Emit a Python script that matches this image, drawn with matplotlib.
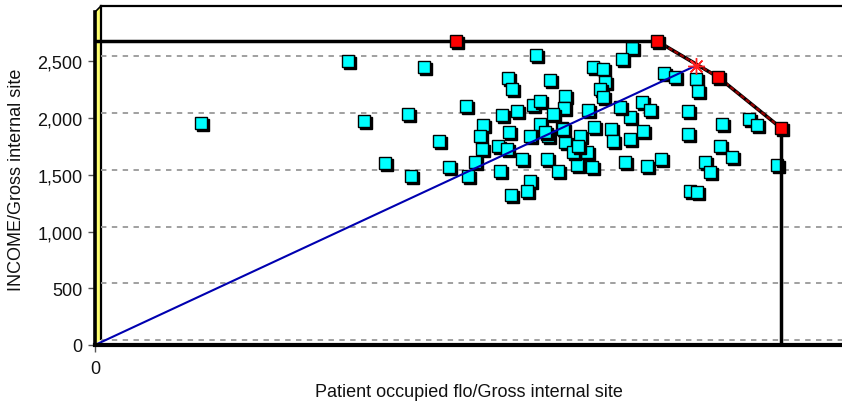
import matplotlib
matplotlib.use('Agg')
import matplotlib.pyplot as plt
from matplotlib.transforms import ScaledTranslation
from matplotlib.patches import Polygon
from matplotlib.ticker import FuncFormatter

plt.rcParams['font.family'] = ['Liberation Sans', 'DejaVu Sans']

# ---------------- data ----------------
unit_x = [0.106, 0.253, 0.269, 0.329, 0.313, 0.290, 0.316, 0.344, 0.354, 0.371,
          0.441, 0.413, 0.417, 0.455, 0.388, 0.385, 0.407, 0.422, 0.438, 0.445,
          0.470, 0.469, 0.445, 0.414, 0.435, 0.453, 0.470, 0.485, 0.499, 0.498,
          0.493, 0.387, 0.403, 0.412, 0.427, 0.405, 0.380, 0.373, 0.452, 0.463,
          0.482, 0.497, 0.435, 0.432, 0.416, 0.492, 0.478, 0.450, 0.458, 0.516,
          0.518, 0.535, 0.530, 0.535, 0.548, 0.552, 0.566, 0.537, 0.527, 0.508,
          0.510, 0.505, 0.508, 0.525, 0.547, 0.555, 0.569, 0.580, 0.601, 0.603,
          0.593, 0.593, 0.627, 0.654, 0.662, 0.625, 0.637, 0.610, 0.615, 0.595,
          0.602, 0.682, 0.483, 0.468]
unit_y = [1956, 2502, 1973, 2449, 2035, 1603, 1489, 1797, 1568, 2106,
          2555, 2352, 2255, 2335, 1938, 1841, 2026, 2062, 2114, 2150,
          2194, 2088, 1947, 1877, 1841, 1841, 1788, 1841, 1921, 2449,
          2070, 1727, 1753, 1727, 1639, 1533, 1612, 1489, 1639, 1533,
          1586, 1568, 1445, 1357, 1322, 1700, 1700, 1877, 2035, 1903,
          1797, 1815, 1612, 2009, 1885, 1577, 1639, 2617, 2520, 2432,
          2317, 2255, 2185, 2097, 2141, 2070, 2396, 2361, 2343, 2238,
          2062, 1859, 1947, 1991, 1938, 1753, 1656, 1612, 1524, 1357,
          1348, 1586, 1753, 1903]

frontier_x = [0.361, 0.562, 0.623, 0.686]
frontier_y = [2678, 2678, 2361, 1912]

eval_x, eval_y = 0.467, 1915      # evaluated unit (red, partly hidden)
target_x, target_y = 0.601, 2462  # projection on the frontier

y_ticks = [0, 500, 1000, 1500, 2000, 2500]
x_ticks = [0]
x_label = 'Patient occupied flo/Gross internal site'
y_label = 'INCOME/Gross internal site'
x_max, y_max = 0.747, 2934

# ---------------- figure ----------------
W, H, DPI = 842, 406, 100
fig = plt.figure(figsize=(W / DPI, H / DPI), dpi=DPI, facecolor='white')
L, R, T, B = 95, 842, 13, 346
ax = fig.add_axes([L / W, 1 - B / H, (R - L) / W, (B - T) / H])
ax.set_xlim(0, x_max)
ax.set_ylim(0, y_max)

# 3D back-wall offset
dpx = 6
wx = dpx / (R - L)
hy = dpx / (B - T)
up = ScaledTranslation(0, 5 / DPI, fig.dpi_scale_trans)

# yellow side wall
wall = Polygon([(0, 0), (wx, hy), (wx, 1 + hy), (0, 1)], closed=True,
               transform=ax.transAxes, facecolor='#ffff70', edgecolor='none',
               clip_on=False, zorder=0.5)
ax.add_patch(wall)
ax.plot([wx, wx], [hy, 1 + hy], transform=ax.transAxes, color='black', lw=1.6,
        clip_on=False, zorder=0.6)
ax.plot([wx, 1], [1 + hy, 1 + hy], transform=ax.transAxes, color='black', lw=1.6,
        clip_on=False, zorder=0.6)
ax.plot([0, wx], [1, 1 + hy], transform=ax.transAxes, color='black', lw=1.2,
        clip_on=False, zorder=0.6)

# gridlines on the back wall
for v in y_ticks:
    ax.plot([wx, 1], [v, v], transform=ax.get_yaxis_transform() + up,
            color='#999999', lw=1.3, ls=(0, (3, 3)), clip_on=False, zorder=0.7)

# spines
for s in ['top', 'right']:
    ax.spines[s].set_visible(False)
ax.spines['left'].set_linewidth(2.6)
ax.spines['bottom'].set_linewidth(3)
ax.spines['left'].set_zorder(5)
ax.spines['bottom'].set_zorder(5)

ax.set_yticks(y_ticks)
ax.yaxis.set_major_formatter(FuncFormatter(lambda v, p: f'{int(v):,}'))
ax.set_xticks(x_ticks)
ax.set_xticklabels([str(t) for t in x_ticks])
ax.tick_params(axis='both', length=5, width=1, color='#555555', labelsize=13,
               labelcolor='#111111')
ax.tick_params(axis='y', pad=4)
ax.tick_params(axis='x', pad=6)
ax.set_xlabel(x_label, fontsize=13, color='#111111', labelpad=4)
ax.set_ylabel(y_label, fontsize=13, color='#111111', labelpad=9)

shadow = ax.transData + ScaledTranslation(2.0 / DPI, -2.0 / DPI, fig.dpi_scale_trans)
ms = 9.2

# evaluated unit (mostly hidden)
ax.plot(eval_x, eval_y, 's', ms=ms, mfc='black', mec='black', transform=shadow, zorder=1)
ax.plot(eval_x, eval_y, 's', ms=ms, mfc='#ff0000', mec='black', mew=1, zorder=1.01)

# cyan units with shadow
z = 2
for x, y in zip(unit_x, unit_y):
    ax.plot(x, y, 's', ms=ms, mfc='black', mec='black', transform=shadow, zorder=z)
    ax.plot(x, y, 's', ms=ms, mfc='#00ffff', mec='black', mew=1, zorder=z + 0.001)
    z += 0.01

# ray from origin to the target
ax.plot([0, target_x], [0, target_y], color='#0000b0', lw=1.5, zorder=4)

# frontier
ax.plot([0, frontier_x[1]], [frontier_y[0], frontier_y[1]], color='black', lw=2.5,
        zorder=4.5, solid_capstyle='butt')
ax.plot(frontier_x[1:], frontier_y[1:], color='black', lw=2.6, zorder=4.5)
ax.plot(frontier_x[1:], frontier_y[1:], color='#9a0000', lw=1.6, ls=(0, (2, 1)), zorder=4.6)
ax.plot([frontier_x[-1], frontier_x[-1]], [frontier_y[-1], 0], color='black', lw=2.5,
        zorder=4.5)

ax.plot(target_x, target_y, marker=(8, 2, 0), ms=12, mec='#ff2020', mew=1, zorder=4.8)

for x, y in zip(frontier_x, frontier_y):
    ax.plot(x, y, 's', ms=ms, mfc='black', mec='black', transform=shadow, zorder=5)
    ax.plot(x, y, 's', ms=ms, mfc='#ff0000', mec='black', mew=1, zorder=5.01)

fig.savefig('out.png', dpi=DPI, facecolor='white')
